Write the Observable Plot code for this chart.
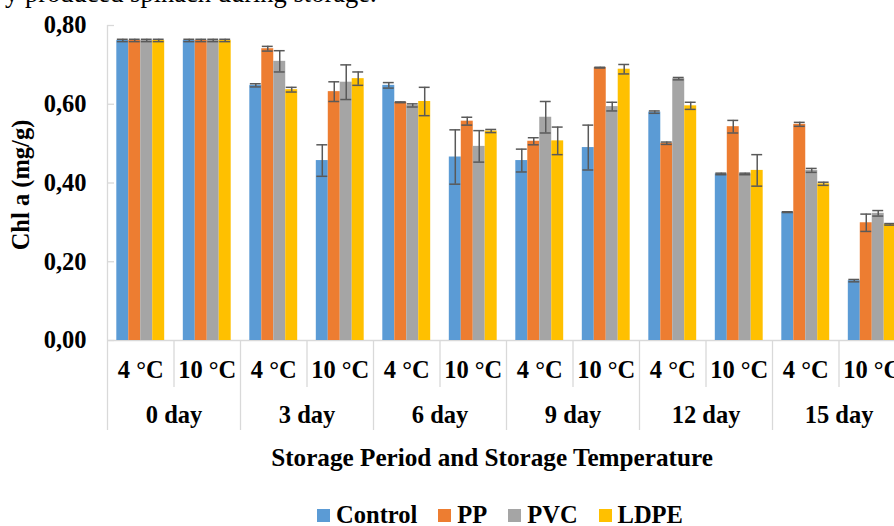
<!DOCTYPE html>
<html>
<head>
<meta charset="utf-8">
<script src="https://cdn.jsdelivr.net/npm/d3@7"></script>
<script src="https://cdn.jsdelivr.net/npm/@observablehq/plot@0.6"></script>
<style>
  html, body { margin: 0; padding: 0; background: #fff; overflow: hidden; }
  #wrap { position: relative; width: 894px; height: 526px; overflow: hidden; background: #fff; }
  #chart { position: absolute; left: 0; top: 0; }
  #cap { position: absolute; left: 5px; top: -20px; font-family: "Liberation Serif", serif; font-size: 26.5px; line-height: 26.5px; color: #000; white-space: nowrap; z-index: 2; }
  #legend { position: absolute; left: 53px; top: 497px; width: 894px; height: 36px; display: flex; justify-content: center; align-items: center; box-sizing: border-box;
            font-family: "Liberation Serif", serif; font-weight: bold; font-size: 24.5px; line-height: 24.5px; color: #000; }
  #legend .item { display: flex; align-items: center; margin: 0 10.5px; }
  #legend .sw { width: 13px; height: 13px; margin-right: 6px; }
</style>
</head>
<body>
<div id="wrap">
  <div id="chart"></div>
  <div id="legend"></div>
  <div id="cap">y produced spinach during storage.</div>
</div>
<script>
// ---- data ----
const days = ["0 day", "3 day", "6 day", "9 day", "12 day", "15 day"];
const temps = ["4 °C", "10 °C"];
const seriesNames = ["Control", "PP", "PVC", "LDPE"];
const seriesColors = ["#5b9bd5", "#ed7d31", "#a5a5a5", "#ffc000"];

// values per category (day × temperature, in order 0d4,0d10,3d4,3d10,...)
const control    = [0.762, 0.762, 0.648, 0.457, 0.648, 0.466, 0.457, 0.490, 0.580, 0.423, 0.326, 0.152];
const controlErr = [0.003, 0.003, 0.004, 0.040, 0.007, 0.069, 0.029, 0.057, 0.003, 0.002, 0.001, 0.003];
const pp         = [0.762, 0.762, 0.741, 0.632, 0.605, 0.557, 0.506, 0.693, 0.501, 0.543, 0.549, 0.299];
const ppErr      = [0.003, 0.003, 0.006, 0.025, 0.001, 0.010, 0.009, 0.001, 0.003, 0.016, 0.005, 0.022];
const pvc        = [0.762, 0.762, 0.709, 0.656, 0.597, 0.493, 0.567, 0.594, 0.665, 0.423, 0.432, 0.323];
const pvcErr     = [0.003, 0.003, 0.027, 0.044, 0.004, 0.040, 0.040, 0.011, 0.003, 0.002, 0.005, 0.007];
const ldpe       = [0.762, 0.762, 0.637, 0.665, 0.607, 0.532, 0.507, 0.689, 0.596, 0.432, 0.398, 0.295];
const ldpeErr    = [0.003, 0.003, 0.006, 0.017, 0.036, 0.004, 0.035, 0.012, 0.009, 0.040, 0.004, 0.002];

const yTicks = [0, 0.2, 0.4, 0.6, 0.8];
const yLabel = "Chl a (mg/g)";
const xTitle = "Storage Period and Storage Temperature";

// ---- build table ----
const values = [control, pp, pvc, ldpe];
const errors = [controlErr, ppErr, pvcErr, ldpeErr];
const categories = days.flatMap((d) => temps.map((t) => ({day: d, temp: t})));
const groupPad = 0.14, barW = 0.18, capHalf = 0.082;
const bars = [];
categories.forEach((c, k) => {
  seriesNames.forEach((s, j) => {
    const x1 = k + groupPad + j * barW;
    bars.push({k, series: s, x1, x2: x1 + barW, xc: x1 + barW / 2, v: values[j][k], e: errors[j][k]});
  });
});
const catIdx = categories.map((c, k) => ({k, label: c.temp}));
const dayIdx = days.map((d, i) => ({x: 2 * i + 1, label: d}));
const bounds = d3.range(0, categories.length + 1);

const font = {fontFamily: "Liberation Serif", fontWeight: "bold", fontSize: 24.5, fill: "#000"};
const grid = "#d9d9d9";
const errC = "#595959";

const chart = Plot.plot({
  width: 894,
  height: 490,
  marginTop: 25,
  marginBottom: 150,
  marginLeft: 107,
  marginRight: -11,
  style: {fontFamily: "Liberation Serif", fontWeight: "bold", fontSize: "24.5px", color: "#000", background: "transparent"},
  x: {domain: [0, categories.length], range: [107, 905], axis: null},
  y: {domain: [0, 0.8], ticks: yTicks, tickFormat: (d) => d.toFixed(2).replace(".", ","), tickSize: 0, tickPadding: 21, label: null},
  color: {domain: seriesNames, range: seriesColors},
  marks: [
    Plot.ruleY([0], {stroke: grid, strokeWidth: 1.3}),
    Plot.ruleX([0], {y1: 0, y2: 0.8, stroke: grid, strokeWidth: 1.3}),
    Plot.ruleY(yTicks, {y: (d) => d, x1: 0, x2: 0, insetRight: -7, stroke: grid, strokeWidth: 1.3}),
    Plot.ruleX(bounds.filter((b) => b % 2 === 0), {x: (d) => d, y1: 0, y2: 0, insetBottom: -90, stroke: grid, strokeWidth: 1.3}),
    Plot.ruleX(bounds.filter((b) => b % 2 === 1), {x: (d) => d, y1: 0, y2: 0, insetBottom: -47, stroke: grid, strokeWidth: 1.3}),
    Plot.rectY(bars, {x1: "x1", x2: "x2", y1: 0, y2: "v", fill: "series"}),
    Plot.ruleX(bars, {x: "xc", y1: (d) => d.v - d.e, y2: (d) => d.v + d.e, stroke: errC, strokeWidth: 1.5}),
    Plot.ruleY(bars, {y: (d) => d.v + d.e, x1: (d) => d.xc - capHalf, x2: (d) => d.xc + capHalf, stroke: errC, strokeWidth: 1.5}),
    Plot.ruleY(bars, {y: (d) => d.v - d.e, x1: (d) => d.xc - capHalf, x2: (d) => d.xc + capHalf, stroke: errC, strokeWidth: 1.5}),
    Plot.text(catIdx, {x: (d) => d.k + 0.5, text: "label", frameAnchor: "bottom", lineAnchor: "middle", dy: 30, ...font}),
    Plot.text(dayIdx, {x: "x", text: "label", frameAnchor: "bottom", lineAnchor: "middle", dy: 75, ...font}),
    Plot.text([xTitle], {frameAnchor: "bottom", lineAnchor: "middle", textAnchor: "middle", dx: -14.5, dy: 117, ...font, fontSize: 25.2}),
    Plot.text([yLabel], {frameAnchor: "left", lineAnchor: "middle", textAnchor: "middle", rotate: -90, dx: -86, dy: 2, ...font})
  ]
});
document.getElementById("chart").appendChild(chart);

// legend
const leg = document.getElementById("legend");
seriesNames.forEach((s, i) => {
  const item = document.createElement("div");
  item.className = "item";
  const sw = document.createElement("span");
  sw.className = "sw";
  sw.style.background = seriesColors[i];
  const lab = document.createElement("span");
  lab.textContent = s;
  item.appendChild(sw);
  item.appendChild(lab);
  leg.appendChild(item);
});
</script>
</body>
</html>
